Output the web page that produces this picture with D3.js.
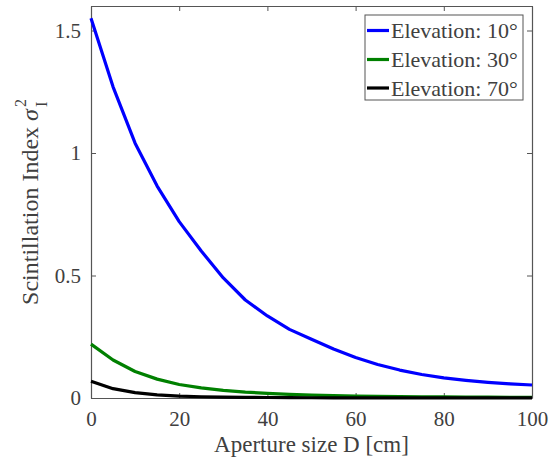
<!DOCTYPE html>
<html><head><meta charset="utf-8">
<script src="https://cdn.jsdelivr.net/npm/d3@7"></script>
<style>body{margin:0;background:#fff}svg{display:block}svg text{font-family:"Liberation Serif","DejaVu Serif",serif !important;fill:#404040}</style>
</head><body>
<script>
const aperture = [0,5,10,15,20,25,30,35,40,45,50,55,60,65,70,75,80,85,90,95,100];
const elev10 = [1.55,1.27,1.04,0.865,0.72,0.60,0.49,0.40,0.335,0.28,0.24,0.20,0.165,0.137,0.114,0.096,0.082,0.072,0.064,0.058,0.053];
const elev30 = [0.22,0.155,0.108,0.077,0.055,0.041,0.031,0.024,0.019,0.015,0.012,0.010,0.008,0.007,0.006,0.005,0.0045,0.004,0.0035,0.003,0.003];
const elev70 = [0.068,0.038,0.022,0.013,0.008,0.005,0.0035,0.0025,0.002,0.0015,0.001,0.0009,0.0008,0.0007,0.0006,0.0005,0.0005,0.0004,0.0004,0.0004,0.0004];
const seriesNames = ["Elevation: 10°","Elevation: 30°","Elevation: 70°"];
const seriesColors = ["#0000ff","#008000","#000000"];
const xTicks = [0,20,40,60,80,100];
const yTicks = [0,0.5,1,1.5];

const W=550,H=465;
const m={l:91,r:532,t:6,b:398};
const svg=d3.select("body").append("svg").attr("width",W).attr("height",H);
const x=d3.scaleLinear().domain([0,100]).range([m.l,m.r]);
const y=d3.scaleLinear().domain([0,1.6]).range([m.b,m.t]);
const axisColor="#555";
const fs=21;

const gB=svg.append("g").attr("transform",`translate(0,${m.b})`).call(d3.axisBottom(x).tickValues(xTicks).tickSizeInner(-5).tickSizeOuter(0).tickPadding(0).tickFormat(d3.format("d")));
const gT=svg.append("g").attr("transform",`translate(0,${m.t})`).call(d3.axisTop(x).tickValues(xTicks).tickSizeInner(-5).tickSizeOuter(0).tickFormat(""));
const gL=svg.append("g").attr("transform",`translate(${m.l},0)`).call(d3.axisLeft(y).tickValues(yTicks).tickSizeInner(-5).tickSizeOuter(0).tickPadding(10).tickFormat(d=>d===0?"0":d3.format("")(d)));
const gR=svg.append("g").attr("transform",`translate(${m.r},0)`).call(d3.axisRight(y).tickValues(yTicks).tickSizeInner(-5).tickSizeOuter(0).tickFormat(""));
[gB,gT,gL,gR].forEach(g=>{
  g.attr("font-family",null);
  g.select(".domain").attr("stroke",axisColor).attr("stroke-width",1.2);
  g.selectAll(".tick line").attr("stroke",axisColor);
  g.selectAll("text").attr("font-size",fs).attr("fill","#404040");
});
gB.selectAll("text").attr("y",28).attr("dy",0);

const line=d3.line().x((d,i)=>x(aperture[i])).y(d=>y(d));
[elev10,elev30,elev70].forEach((s,k)=>{
  svg.append("path").datum(s).attr("d",line).attr("fill","none").attr("stroke",seriesColors[k]).attr("stroke-width",3.2).attr("stroke-linejoin","round");
});

svg.append("text").attr("x",(m.l+m.r)/2).attr("y",452).attr("text-anchor","middle").attr("font-size",23).text("Aperture size D [cm]");
const yl=svg.append("text").attr("transform",`translate(38,${(m.t+m.b)/2}) rotate(-90)`).attr("text-anchor","middle").attr("font-size",24);
yl.append("tspan").text("Scintillation Index  ");
yl.append("tspan").attr("font-style","italic").text("σ");
yl.append("tspan").attr("font-size",16).attr("dy",-12).attr("dx",2).text("2");
yl.append("tspan").attr("font-size",16).attr("dy",21).attr("dx",-8).text("I");

const lg=svg.append("g");
lg.append("rect").attr("x",365).attr("y",15).attr("width",158).attr("height",85).attr("fill","#fff").attr("stroke",axisColor).attr("stroke-width",1);
const rowY=[30.5,59.5,88];
seriesNames.forEach((n,k)=>{
  lg.append("line").attr("x1",367).attr("x2",389).attr("y1",rowY[k]).attr("y2",rowY[k]).attr("stroke",seriesColors[k]).attr("stroke-width",3.2);
  lg.append("text").attr("x",391).attr("y",rowY[k]).attr("dy","0.35em").attr("font-size",22).text(n);
});
</script>
</body></html>
